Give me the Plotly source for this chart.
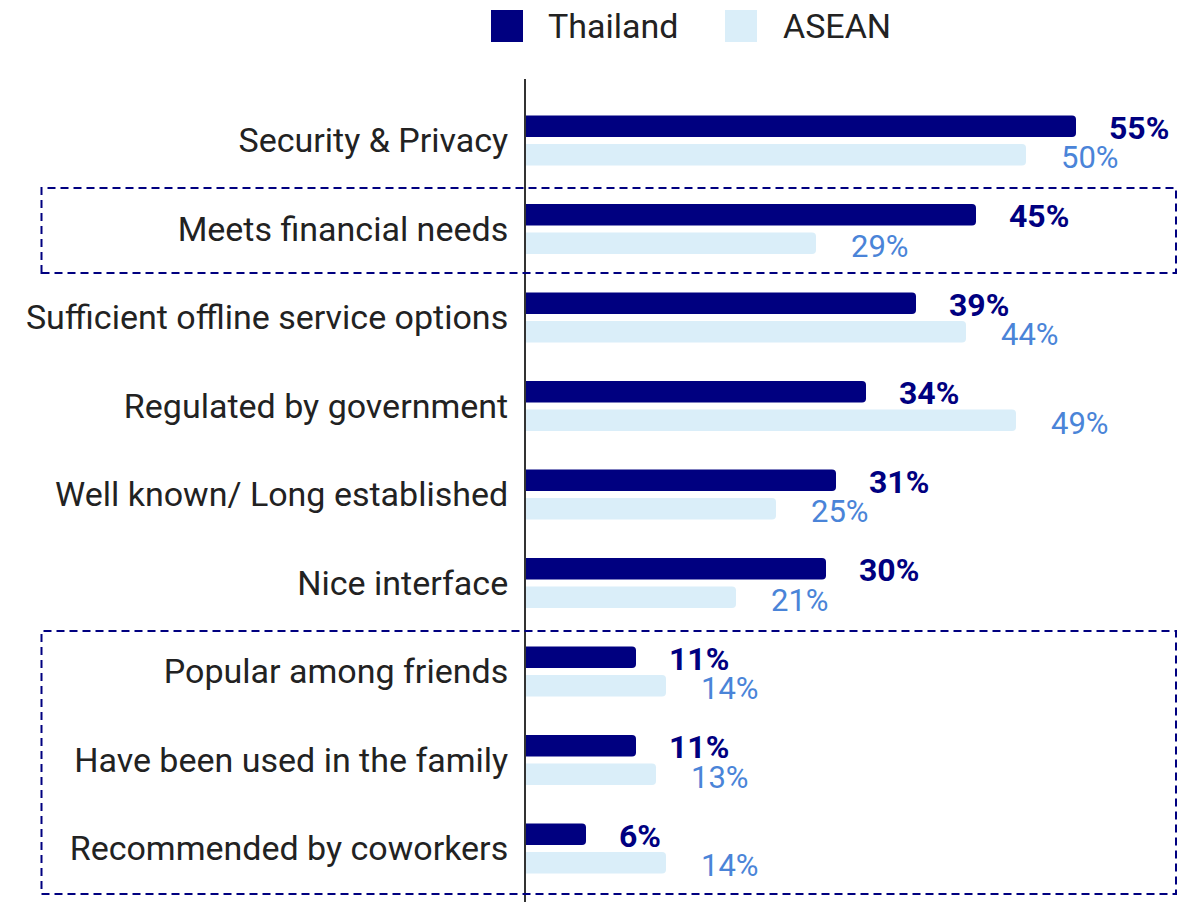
import plotly.graph_objects as go

# Reasons for choosing a financial app: Thailand vs ASEAN average (% of respondents)
categories = [
    "Security & Privacy",
    "Meets financial needs",
    "Sufficient offline service options",
    "Regulated by government",
    "Well known/ Long established",
    "Nice interface",
    "Popular among friends",
    "Have been used in the family",
    "Recommended by coworkers",
]
thailand = [55, 45, 39, 34, 31, 30, 11, 11, 6]
asean = [50, 29, 44, 49, 25, 21, 14, 13, 14]

NAVY = "#000080"
LIGHT = "#DAEEF9"
LABEL_BLUE = "#4A84D8"
FONT = "Roboto"

W, H = 1178, 902
L, T = 526, 79
plot_w, plot_h = W - L, H - T

fig = go.Figure()
fig.add_trace(go.Bar(y=categories, x=thailand, name="Thailand", orientation="h",
                     marker=dict(color=NAVY, line=dict(width=0)), showlegend=False))
fig.add_trace(go.Bar(y=categories, x=asean, name="ASEAN", orientation="h",
                     marker=dict(color=LIGHT, line=dict(width=0)), showlegend=False))

annotations = []
for cat, v in zip(categories, thailand):
    annotations.append(dict(x=v, y=cat, xref="x", yref="y", text=f"<b>{v}%</b>",
                            showarrow=False, xanchor="left", yanchor="middle",
                            xshift=32, yshift=13, borderpad=0,
                            font=dict(family=FONT, size=32, color=NAVY)))
for cat, v in zip(categories, asean):
    annotations.append(dict(x=v, y=cat, xref="x", yref="y", text=f"{v}%",
                            showarrow=False, xanchor="left", yanchor="middle",
                            xshift=34, yshift=-17, borderpad=0,
                            font=dict(family=FONT, size=31, color=LABEL_BLUE)))


def px_x(px):
    return (px - L) / plot_w


def px_y(py):
    return (H - py) / plot_h


# Legend drawn by hand so the swatches can be large
legend_items = [("Thailand", NAVY, 491, 546), ("ASEAN", LIGHT, 725, 781)]
shapes = []
for name, color, sx, tx in legend_items:
    shapes.append(dict(type="rect", xref="paper", yref="paper",
                       x0=px_x(sx), x1=px_x(sx + 32), y0=px_y(42), y1=px_y(10),
                       fillcolor=color, line=dict(width=0), layer="above"))
    annotations.append(dict(x=px_x(tx), y=px_y(26), xref="paper", yref="paper",
                            text=name, showarrow=False, xanchor="left", yanchor="middle",
                            font=dict(family=FONT, size=34, color="#222222")))

# Dashed highlight boxes around selected rows
box_line = dict(color=NAVY, width=2, dash="8px,5px")
for top, bottom in [(188, 273), (631, 894)]:
    shapes.append(dict(type="rect", xref="paper", yref="paper",
                       x0=px_x(41.5), x1=px_x(1176), y0=px_y(bottom), y1=px_y(top),
                       line=box_line, fillcolor="rgba(0,0,0,0)", layer="above"))

fig.update_layout(
    width=W, height=H,
    margin=dict(l=L, r=0, t=T, b=0),
    paper_bgcolor="white", plot_bgcolor="white",
    barmode="group", bargap=0.356, bargroupgap=0.245,
    barcornerradius=4,
    annotations=annotations, shapes=shapes,
    font=dict(family=FONT),
)
fig.update_xaxes(range=[0, plot_w / 10.0], visible=False, showgrid=False, zeroline=False)
fig.update_yaxes(
    categoryorder="array", categoryarray=categories,
    range=[8.604, -0.695],
    showgrid=False, zeroline=False,
    showline=True, linecolor="#333333", linewidth=2,
    ticks="", ticklabelstandoff=9,
    tickfont=dict(family=FONT, size=34, color="#222222"),
)

fig.write_html("out.html")
